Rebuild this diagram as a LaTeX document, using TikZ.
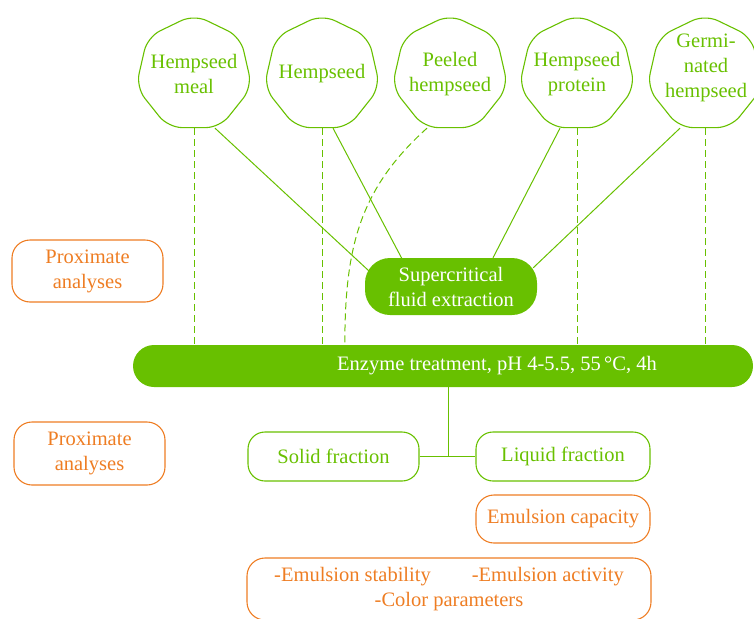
\documentclass[tikz,border=0pt]{standalone}
\usepackage{fontspec}
\setmainfont{Liberation Serif}
\usetikzlibrary{shapes.geometric,calc}
\definecolor{hempgreen}{RGB}{104,192,0}
\definecolor{hemporange}{RGB}{238,125,35}
\tikzset{
  x=1pt,
  y=-1pt,
}
\tikzstyle{every node}=[font=\fontsize{20.5}{25}\selectfont]
\tikzstyle{seed}=[draw=hempgreen,line width=1.1pt,text=hempgreen,regular polygon,regular polygon sides=7,minimum size=119,rounded corners=14,inner sep=-8pt,align=center]
\tikzstyle{process}=[fill=hempgreen,text=white,align=center]
\tikzstyle{fraction}=[draw=hempgreen,line width=1.1pt,text=hempgreen,rounded corners=17,align=center]
\tikzstyle{analysis}=[draw=hemporange,line width=1.1pt,text=hemporange,rounded corners=18,align=center]
\tikzstyle{link}=[hempgreen,line width=1pt]
\tikzstyle{guide}=[hempgreen,line width=1pt,dash pattern=on 7pt off 4pt]

\begin{document}
\begin{tikzpicture}
    \useasboundingbox (0,0) rectangle (754,618);

    % raw materials
    \node[seed] (hmeal) at (194,74) {Hempseed\\meal};
    \node[seed] (hseed) at (322,74) {Hempseed};
    \node[seed] (peel) at (450,74) {Peeled\\hempseed};
    \node[seed] (prot) at (577,74) {Hempseed\\protein};
    \node[seed] (germ) at (705,74) {};
    \node[text=hempgreen,align=center] at ($(germ.center)+(1,-6)$) {Germi-\\nated\\hempseed};

    \node[process,rounded corners=25,minimum width=172,minimum height=57] (sfe) at (451,286.5)
    {Supercritical\\fluid extraction};
    \node[process,rounded corners=21,minimum width=620,minimum height=42] (enz) at (443,366) {};
    \node[text=white] at ($(enz.center)+(54,0)$) {Enzyme treatment, pH 4-5.5, 55\,°C, 4h};

    \node[analysis,minimum width=151,minimum height=62] (prox1) at (87.5,271) {Proximate\\analyses};
    \node[analysis,minimum width=151,minimum height=63] (prox2) at (89.5,453.5) {Proximate\\analyses};

    \node[fraction,minimum width=171,minimum height=49] (solid) at (333.5,456.5) {Solid fraction};
    \node[fraction,minimum width=174,minimum height=49] (liquid) at (563,456.5) {Liquid fraction};
    \node[analysis,minimum width=174,minimum height=48] (emcap) at (563,519) {Emulsion capacity};
    \node[analysis,minimum width=404,minimum height=62] (props) at (449,589)
    {-Emulsion stability\hspace{41pt}-Emulsion activity\\-Color parameters};

    % links to the extraction
    \draw[link] ($(hmeal.south)+(21,0)$) -- ($(sfe.north west)+(4,13)$);
    \draw[link] ($(hseed.south)+(11,0)$) -- ($(sfe.north)+(-49,1)$);
    \draw[link] ($(prot.south)+(-17,0)$) -- ($(sfe.north)+(42,0)$);
    \draw[link] ($(germ.south)+(-25,0)$) -- ($(sfe.north east)+(-4,10)$);

    % direct routes to the enzyme step
    \draw[guide] (hmeal.south) -- (hmeal.south |- enz.north);
    \draw[guide] (hseed.south) -- (hseed.south |- enz.north);
    \draw[guide] (prot.south) -- (prot.south |- enz.north);
    \draw[guide] (germ.south) -- (germ.south |- enz.north);
    \draw[guide] ($(peel.south)+(-23,0)$) .. controls (358,190) and (345,250) .. ($(enz.north west)+(212,0)$);

    \coordinate (split) at ($(enz.south)+(5,0)$);
    \draw[link] (split) -- (split |- solid.east);
    \draw[link] (solid.east) -- (liquid.west);
\end{tikzpicture}
\end{document}
